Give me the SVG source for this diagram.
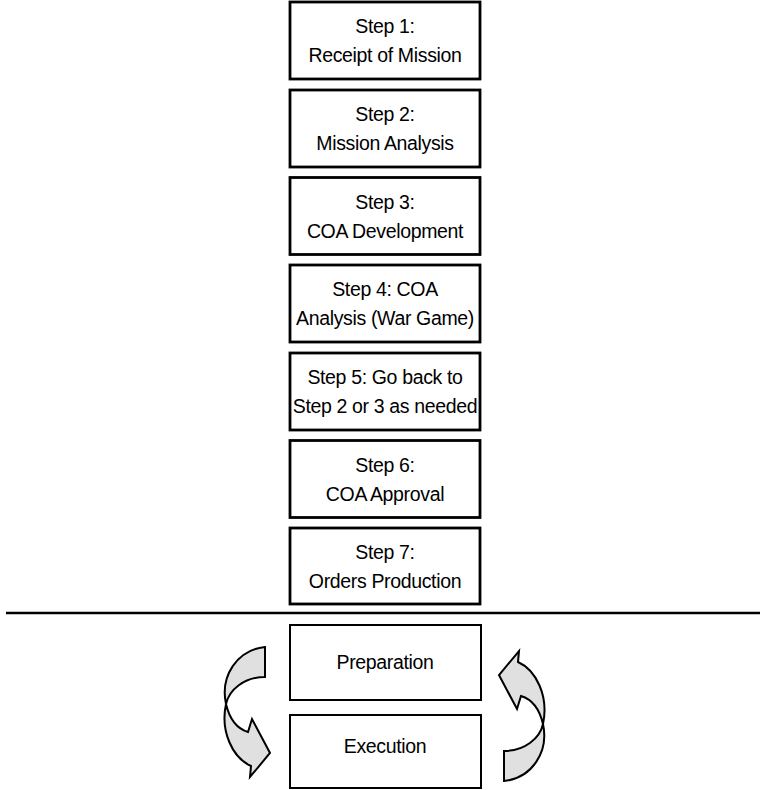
<svg xmlns="http://www.w3.org/2000/svg" width="761" height="790" viewBox="0 0 761 790">
<style>
.box{fill:#fff;stroke:#000;stroke-width:2.8}
.box2{fill:#fff;stroke:#000;stroke-width:2}
.t{font-family:"Liberation Sans",Arial,sans-serif;font-size:19.5px;fill:#000;text-anchor:middle;letter-spacing:-0.35px}
.arr{fill:#e0e0e0;stroke:#000;stroke-width:2;stroke-linejoin:miter}
</style>
<defs>
<path id="curvedArrow" d="M265,647 C237,650 220,676 226,704 C230,721 238,729 248,732 L252,719 L270,753 L250,777 L251,766 C233,758 220,732 226,704 C229,690 244,677 265,677 Z"/>
</defs>
<rect width="761" height="790" fill="#fff"/>
<g id="step1"><rect class="box" x="290" y="2" width="190" height="77"/><text class="t" x="385" y="33">Step 1:</text><text class="t" x="385" y="62">Receipt of Mission</text></g>
<g id="step2"><rect class="box" x="290" y="90" width="190" height="77"/><text class="t" x="385" y="121">Step 2:</text><text class="t" x="385" y="150">Mission Analysis</text></g>
<g id="step3"><rect class="box" x="290" y="177.5" width="190" height="77"/><text class="t" x="385" y="208.5">Step 3:</text><text class="t" x="385" y="237.5">COA Development</text></g>
<g id="step4"><rect class="box" x="290" y="265" width="190" height="77"/><text class="t" x="385" y="296">Step 4: COA</text><text class="t" x="385" y="325">Analysis (War Game)</text></g>
<g id="step5"><rect class="box" x="290" y="353" width="190" height="77"/><text class="t" x="385" y="384">Step 5: Go back to</text><text class="t" x="385" y="413">Step 2 or 3 as needed</text></g>
<g id="step6"><rect class="box" x="290" y="440.5" width="190" height="77"/><text class="t" x="385" y="471.5">Step 6:</text><text class="t" x="385" y="500.5">COA Approval</text></g>
<g id="step7"><rect class="box" x="290" y="528" width="190" height="76"/><text class="t" x="385" y="559">Step 7:</text><text class="t" x="385" y="588">Orders Production</text></g>
<g id="divider"><line x1="6" y1="613" x2="760" y2="613" stroke="#000" stroke-width="2.6"/></g>
<g id="preparation"><rect class="box2" x="290" y="625" width="191" height="75"/><text class="t" x="385" y="669">Preparation</text></g>
<g id="execution"><rect class="box2" x="290" y="715" width="191" height="73"/><text class="t" x="385" y="753">Execution</text></g>
<g id="connectors">
<use href="#curvedArrow" class="arr"/>
<use href="#curvedArrow" class="arr" transform="rotate(180 384.5 714)"/>
</g>
</svg>
